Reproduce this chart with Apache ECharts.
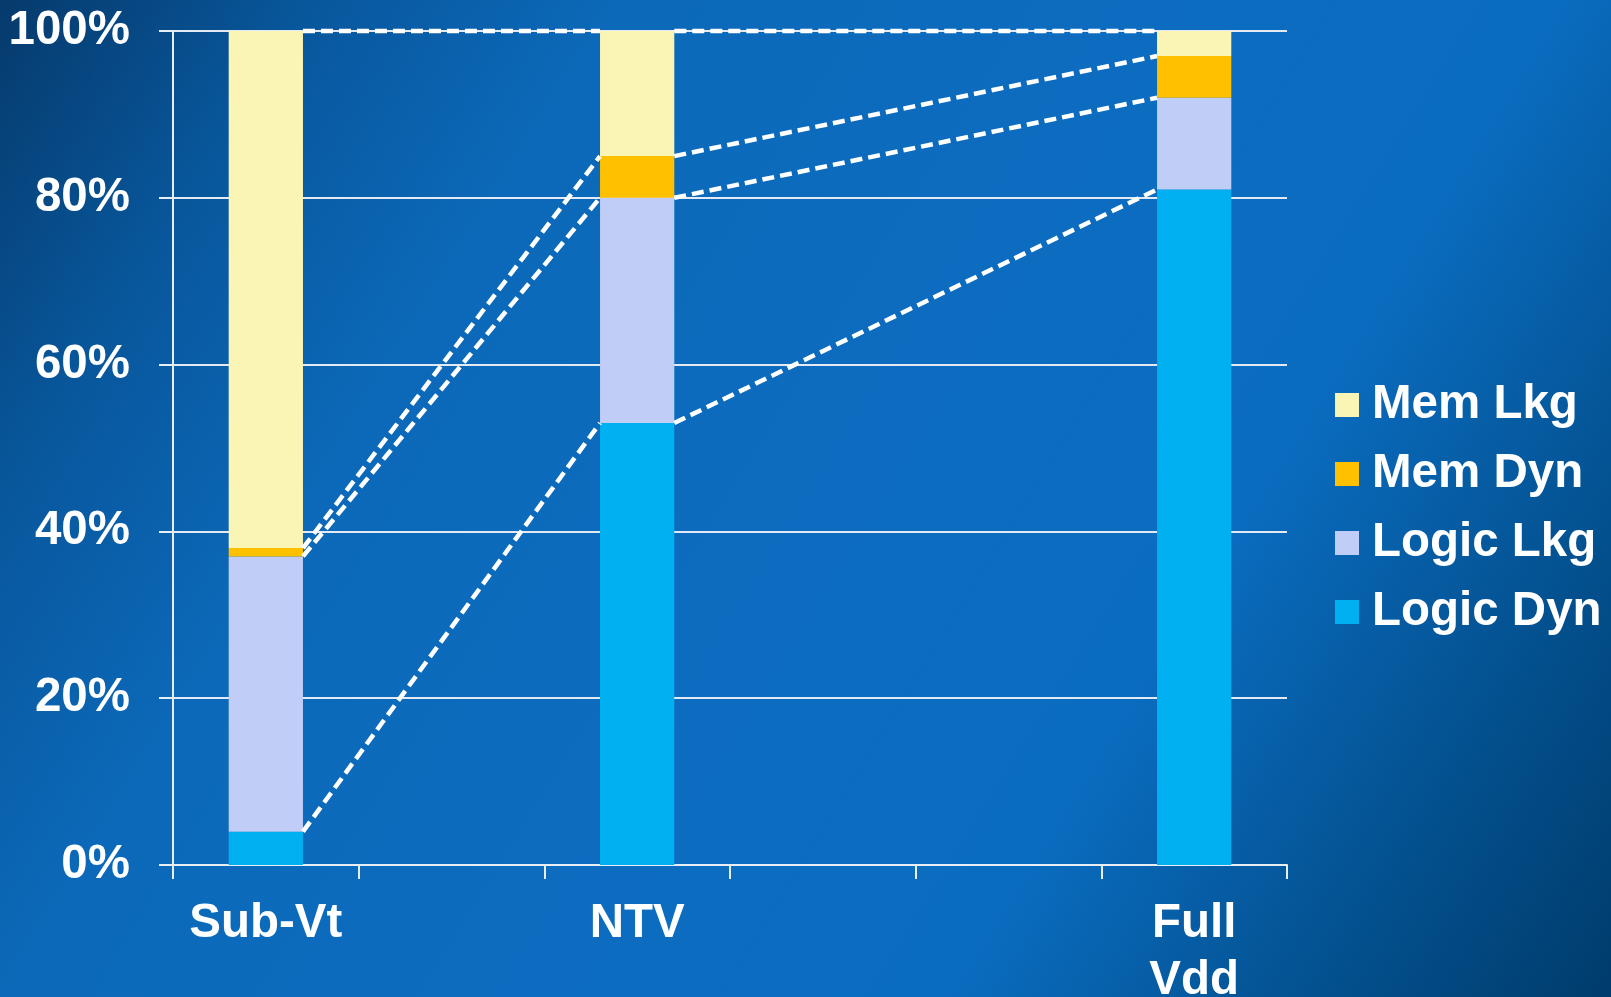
<!DOCTYPE html>
<html>
<head>
<meta charset="utf-8">
<script src="https://cdn.jsdelivr.net/npm/echarts@6/dist/echarts.min.js"></script>
<style>
html,body{margin:0;padding:0;}
#chart{width:1611px;height:997px;}
</style>
</head>
<body>
<div id="chart"></div>
<script>
// Categories (empty slots keep the spacing of the original axis)
const categories = ['Sub-Vt', '', 'NTV', ' ', '  ', 'Full\nVdd'];
// Series values (percent of total power)
const logicDyn = [4, null, 53, null, null, 81];
const logicLkg = [33, null, 27, null, null, 11];
const memDyn   = [1, null, 5, null, null, 5];
const memLkg   = [62, null, 15, null, null, 3];
const seriesNames = ['Logic Dyn', 'Logic Lkg', 'Mem Dyn', 'Mem Lkg'];
const legendOrder = ['Mem Lkg', 'Mem Dyn', 'Logic Lkg', 'Logic Dyn'];
const yTicks = [0, 20, 40, 60, 80, 100];
// bars linked by dashed connector lines (category indices)
const links = [[0, 2], [2, 5]];

const colors = ['#00B0F0', '#BFCDF7', '#FFC000', '#FAF5B5'];
const stackData = [logicDyn, logicLkg, memDyn, memLkg];
const BAR_FRACTION = 0.4;
const font = "'Liberation Sans', Arial, sans-serif";
const FS = 47.5;

// cumulative boundaries for connector lines
function cumulative(idx) {
  let s = 0; const out = [];
  stackData.forEach(arr => { s += arr[idx]; out.push(s); });
  return out;
}
const connectorData = [];
links.forEach(([a, b]) => {
  const ca = cumulative(a), cb = cumulative(b);
  for (let k = 0; k < ca.length; k++) connectorData.push([a, ca[k], b, cb[k]]);
});

const chart = echarts.init(document.getElementById('chart'));
const series = stackData.map((d, i) => ({
  name: seriesNames[i],
  type: 'bar',
  stack: 'total',
  barWidth: (BAR_FRACTION * 100) + '%',
  data: d,
  itemStyle: { color: colors[i] },
  z: 3
}));
series.push({
  type: 'custom',
  name: 'connectors',
  data: connectorData,
  encode: { x: [0, 2], y: [1, 3] },
  z: 5,
  silent: true,
  renderItem: function (params, api) {
    const p0 = api.coord([api.value(0), api.value(1)]);
    const p1 = api.coord([api.value(2), api.value(3)]);
    const half = api.size([1, 0])[0] * BAR_FRACTION / 2;
    return {
      type: 'line',
      shape: { x1: p0[0] + half, y1: p0[1], x2: p1[0] - half, y2: p1[1] },
      style: { stroke: '#ffffff', lineWidth: 4.5, lineDash: [12, 6], fill: null }
    };
  }
});

chart.setOption({
  animation: false,
  backgroundColor: {
    type: 'linear', x: 0, y: 0, x2: 1, y2: 1,
    colorStops: [
      { offset: 0, color: '#063a6c' },
      { offset: 0.14, color: '#08579c' },
      { offset: 0.28, color: '#0c69b9' },
      { offset: 0.5, color: '#0d6cbf' },
      { offset: 0.7, color: '#0a6cc0' },
      { offset: 0.78, color: '#075fa8' },
      { offset: 0.87, color: '#03508e' },
      { offset: 1, color: '#003c6c' }
    ]
  },
  textStyle: { fontFamily: font },
  grid: { left: 173, right: 324, top: 31, bottom: 132, containLabel: false, outerBoundsMode: 'none' },
  legend: {
    orient: 'vertical',
    left: 1330,
    top: 375,
    data: legendOrder,
    icon: 'rect',
    itemWidth: 24,
    itemHeight: 24,
    itemGap: 19,
    textStyle: { color: '#ffffff', fontSize: FS, fontWeight: 'bold', fontFamily: font, lineHeight: 50, padding: [0, 0, 0, 8] }
  },
  xAxis: {
    type: 'category',
    data: categories,
    boundaryGap: true,
    axisLine: { show: true, lineStyle: { color: '#e8eef6', width: 2 } },
    axisTick: { show: true, interval: 0, length: 14, lineStyle: { color: '#e8eef6', width: 2 } },
    axisLabel: { interval: 0, color: '#ffffff', fontSize: FS, fontWeight: 'bold', fontFamily: font, margin: 30, lineHeight: 57 }
  },
  yAxis: {
    type: 'value',
    min: yTicks[0],
    max: yTicks[yTicks.length - 1],
    interval: yTicks[1] - yTicks[0],
    axisLine: { show: true, lineStyle: { color: '#e8eef6', width: 2 } },
    axisTick: { show: true, length: 14, lineStyle: { color: '#e8eef6', width: 2 } },
    splitLine: { show: true, lineStyle: { color: '#e3eaf3', width: 2 } },
    axisLabel: { color: '#ffffff', fontSize: FS, fontWeight: 'bold', fontFamily: font, margin: 43, formatter: '{value}%' }
  },
  series: series
});
</script>
</body>
</html>
